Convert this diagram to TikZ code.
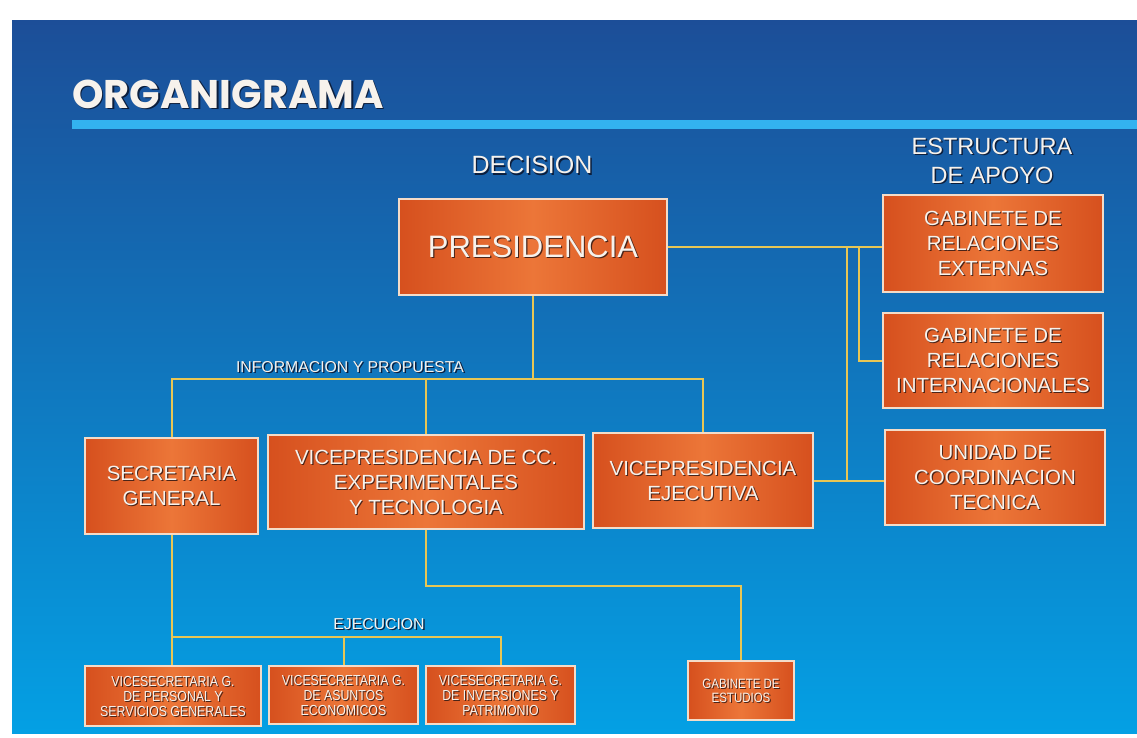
\documentclass[tikz,border=0pt]{standalone}
\usepackage{fontspec}
\setmainfont{Liberation Sans}
\newfontfamily\narrowsans{Liberation Sans}[FakeStretch=0.85]
\newfontfamily\titlesans{Poppins}
\usetikzlibrary{positioning,calc}
\definecolor{skytop}{HTML}{1C4E98}
\definecolor{skymid}{HTML}{0A7ACA}
\definecolor{skybot}{HTML}{04A0E4}
\definecolor{rulebar}{HTML}{33B2F0}
\definecolor{boxdark}{HTML}{D6501E}
\definecolor{boxlight}{HTML}{EC7638}
\definecolor{boxrim}{HTML}{F4DCC8}
\definecolor{wire}{HTML}{E8C654}
\definecolor{ink}{HTML}{F7F2EC}
\definecolor{inkshade}{HTML}{4A2418}
\definecolor{navyshade}{HTML}{0C1E3C}
\newcommand{\titlefont}{\titlesans\bfseries\fontsize{40}{44}\selectfont}
\newcommand{\presfont}{\fontsize{31}{36}\selectfont}
\newcommand{\unitfont}{\fontsize{20.5}{25}\selectfont}
\newcommand{\subfont}{\narrowsans\fontsize{14.5}{15}\selectfont}
\newcommand{\studyfont}{\narrowsans\fontsize{13.5}{14}\selectfont}
\newcommand{\levelfont}{\fontsize{25}{29}\selectfont}
\newcommand{\supportfont}{\fontsize{23.5}{29}\selectfont}
\newcommand{\tagfont}{\fontsize{15.8}{18}\selectfont}
% box with embossed caption: name, centre, width, height, font, text
\newcommand{\orgbox}[6]{%
  \node[unitbox,minimum width=#3pt,minimum height=#4pt] (#1) at (#2) {};
  \node[caption,font=#5,text=inkshade] (#1-sh) at ([shift={(1.1pt,-1.1pt)}]#2) {#6};
  \node[caption,font=#5] (#1-tx) at (#2) {#6};}
% free label with the same relief
\newcommand{\emboss}[4]{%
  \node[caption,font=#3,text=navyshade] (#1-sh) at ([shift={(1.4pt,-1.4pt)}]#2) {#4};
  \node[caption,font=#3] (#1) at (#2) {#4};}
\tikzset{
  unitbox/.style={draw=boxrim,line width=1.5pt,left color=boxdark,right color=boxdark,
                  middle color=boxlight,inner sep=0pt},
  caption/.style={text=ink,align=center,inner sep=0pt},
  link/.style={draw=wire,line width=2pt},
}
\begin{document}
\begin{tikzpicture}[x=1pt,y=-1pt]
  \useasboundingbox (0,0) rectangle (1137,737);
  \fill[white] (0,0) rectangle (1137,737);
  % the backdrop, dark at the top and bright below
  \shade[top color=skytop,middle color=skymid,bottom color=skybot] (12,20) rectangle (1137,733);
  \fill[rulebar] (72,120) rectangle (1137,129);
  \emboss{title}{228,94}{\titlefont}{ORGANIGRAMA}
  \emboss{decision}{532,165}{\levelfont}{DECISION}
  \emboss{support}{992,161}{\supportfont}{ESTRUCTURA\\DE APOYO}
  \emboss{proposal}{350,367}{\tagfont}{INFORMACION Y PROPUESTA}
  \emboss{execution}{379,624}{\tagfont}{EJECUCION}
  % decision and support structure
  \orgbox{pres}{533,247}{268}{96}{\presfont}{PRESIDENCIA}
  \orgbox{extern}{993,243.5}{220}{97}{\unitfont}{GABINETE DE\\RELACIONES\\EXTERNAS}
  \orgbox{intern}{993,360.5}{220}{95}{\unitfont}{GABINETE DE\\RELACIONES\\INTERNACIONALES}
  \orgbox{coord}{995,477.5}{220}{95}{\unitfont}{UNIDAD DE\\COORDINACION\\TECNICA}
  % information and proposal
  \orgbox{secgen}{171.5,486}{173}{96}{\unitfont}{SECRETARIA\\GENERAL}
  \orgbox{vicecc}{426,482}{316}{94}{\unitfont}{VICEPRESIDENCIA DE CC.\\EXPERIMENTALES\\Y TECNOLOGIA}
  \orgbox{viceej}{703,480.5}{220}{95}{\unitfont}{VICEPRESIDENCIA\\EJECUTIVA}
  % execution
  \orgbox{perso}{173,696}{176}{60}{\subfont}{VICESECRETARIA G.\\DE PERSONAL Y\\SERVICIOS GENERALES}
  \orgbox{econ}{343.5,695}{149}{58}{\subfont}{VICESECRETARIA G.\\DE ASUNTOS\\ECONOMICOS}
  \orgbox{patri}{500.5,695}{149}{58}{\subfont}{VICESECRETARIA G.\\DE INVERSIONES Y\\PATRIMONIO}
  \orgbox{study}{741,690.5}{106}{59}{\studyfont}{GABINETE DE\\ESTUDIOS}
  % connectors
  \coordinate (infoline) at (533,379);
  \coordinate (tapouter) at (847,0);
  \coordinate (tapinner) at (859,0);
  \coordinate (execline) at (343.5,637);
  \coordinate (studyline) at (426,586);
  \draw[link] (pres.south) -- (pres.south |- infoline);
  \draw[link] (secgen.north) -- (secgen.north |- infoline) -- (viceej.north |- infoline) -- (viceej.north);
  \draw[link] (vicecc.north) -- (vicecc.north |- infoline);
  \draw[link] (pres.east) -- (pres.east -| extern.west);
  \draw[link] (pres.east -| tapouter) -- (viceej.east -| tapouter);
  \draw[link] (viceej.east) -- (viceej.east -| coord.west);
  \draw[link] (pres.east -| tapinner) |- (intern.west);
  \draw[link] (secgen.south) -- (secgen.south |- perso.north);
  \draw[link] (secgen.south |- execline) -- (patri.north |- execline) -- (patri.north);
  \draw[link] (econ.north |- execline) -- (econ.north);
  \draw[link] (vicecc.south) -- (vicecc.south |- studyline) -| (study.north);
\end{tikzpicture}
\end{document}
